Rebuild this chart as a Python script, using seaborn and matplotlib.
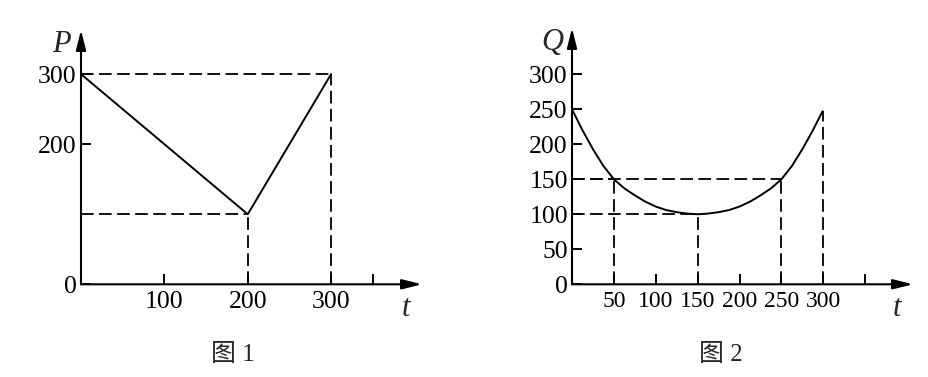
import matplotlib
matplotlib.use("Agg")
import matplotlib.pyplot as plt
import seaborn as sns
import pandas as pd

# ---------------- data ----------------
# Figure 1: P versus t (piecewise linear)
p_t = [0, 200, 300]
p_val = [300, 100, 300]
p_xticks = [100, 200, 300, 350]
p_xticklabels = ["100", "200", "300", ""]
p_yticks = [0, 200, 300]
p_yticklabels = ["0", "200", "300"]

# Figure 2: Q versus t (curve)
q_t = [0, 12.5, 25, 37.5, 50, 62.5, 75, 87.5, 100, 112.5, 125, 137.5, 150,
       162.5, 175, 187.5, 200, 212.5, 225, 237.5, 250, 262.5, 275, 287.5, 299]
q_val = [250, 220, 193, 169, 150, 137, 127, 118, 111, 106, 103, 101, 100,
         101, 103, 106, 111, 118, 127, 137, 150, 169, 193, 220, 247]
q_xticks = [50, 100, 150, 200, 250, 300, 350]
q_xticklabels = ["50", "100", "150", "200", "250", "300", ""]
q_yticks = [0, 50, 100, 150, 200, 250, 300]
q_yticklabels = ["0", "50", "100", "150", "200", "250", "300"]

# guide points (t, value) from which dashed lines are dropped
p_guides = [(200, 100), (300, 300)]
q_guides = [(50, 150), (150, 100), (250, 150), (299, 247)]

# ---------------- style ----------------
sns.set_style("white")
plt.rcParams["font.family"] = ["Liberation Serif", "Noto Sans CJK SC"]

fig = plt.figure(figsize=(9.29, 3.77), dpi=100)
W, H = 929, 377

LW = 1.4
DASH = (0, (7, 3))
FS = 18.5


def setup(ax, xmax, ymax, xticks, xlabels, yticks, ylabels, xfs):
    ax.set_xlim(0, xmax)
    ax.set_ylim(0, ymax)
    for s in ["top", "right", "bottom", "left"]:
        ax.spines[s].set_visible(False)
    ax.set_facecolor("none")
    # axes with arrows
    ax.annotate("", xy=(1, 0), xytext=(0, 0), xycoords="axes fraction",
                arrowprops=dict(arrowstyle="-|>,head_length=1.2,head_width=0.3",
                                lw=1.5, color="black", shrinkA=0, shrinkB=0))
    ax.annotate("", xy=(0, 1), xytext=(0, 0), xycoords="axes fraction",
                arrowprops=dict(arrowstyle="-|>,head_length=1.2,head_width=0.3",
                                lw=1.5, color="black", shrinkA=0, shrinkB=0))
    ax.set_xticks(xticks)
    ax.set_xticklabels(xlabels)
    ax.set_yticks(yticks)
    ax.set_yticklabels(ylabels)
    ax.tick_params(axis="both", direction="in", length=7, width=1.4,
                   colors="black", bottom=True, left=True)
    ax.tick_params(axis="x", pad=5, labelsize=xfs)
    ax.tick_params(axis="y", pad=3, labelsize=FS)
    ax.set_xlabel("")
    ax.set_ylabel("")
    ax.grid(False)


# ---------- panel 1 ----------
ax1 = fig.add_axes([81 / W, (H - 284.3) / H, 341 / W, 254.3 / H])
df1 = pd.DataFrame({"t": p_t, "P": p_val})
sns.lineplot(data=df1, x="t", y="P", ax=ax1, color="black", lw=LW,
             sort=False, estimator=None)
for gx, gy in p_guides:
    ax1.plot([0, gx], [gy, gy], color="black", lw=1.3, ls=DASH)
    ax1.plot([gx, gx], [0, gy], color="black", lw=1.3, ls=DASH)
setup(ax1, 409, 363, p_xticks, p_xticklabels, p_yticks, p_yticklabels, FS)
ax1.text(-23, 343, "P", fontsize=22, style="italic", ha="center", va="center")
ax1.text(390, -35, "t", fontsize=22, style="italic", ha="center", va="center")

# ---------- panel 2 ----------
ax2 = fig.add_axes([572 / W, (H - 284.3) / H, 341 / W, 256.3 / H])
df2 = pd.DataFrame({"t": q_t, "Q": q_val})
sns.lineplot(data=df2, x="t", y="Q", ax=ax2, color="black", lw=LW,
             sort=False, estimator=None)
for gx, gy in q_guides:
    ax2.plot([gx, gx], [0, gy], color="black", lw=1.3, ls=DASH)
for gx, gy in q_guides[:3]:
    ax2.plot([0, gx], [gy, gy], color="black", lw=1.3, ls=DASH)
setup(ax2, 407, 366, q_xticks, q_xticklabels, q_yticks, q_yticklabels, 17)
ax2.text(-24, 346, "Q", fontsize=22, style="italic", ha="center", va="center")
ax2.text(388, -35, "t", fontsize=22, style="italic", ha="center", va="center")

# ---------- captions ----------
fig.text(233 / W, 1 - 355 / H, "图 1", fontsize=18, ha="center", va="center")
fig.text(721 / W, 1 - 355 / H, "图 2", fontsize=18, ha="center", va="center")

fig.savefig("out.png", dpi=100, facecolor="white")
